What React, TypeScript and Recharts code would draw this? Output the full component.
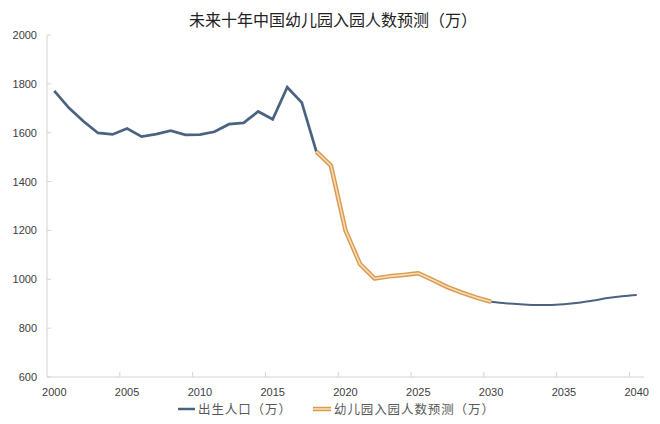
import React from "react";
import { LineChart, Line, XAxis, YAxis, Legend } from "recharts";

const years: number[] = [
  2000, 2001, 2002, 2003, 2004, 2005, 2006, 2007, 2008, 2009,
  2010, 2011, 2012, 2013, 2014, 2015, 2016, 2017, 2018, 2019,
  2020, 2021, 2022, 2023, 2024, 2025, 2026, 2027, 2028, 2029,
  2030, 2031, 2032, 2033, 2034, 2035, 2036, 2037, 2038, 2039, 2040,
];

// 出生人口（万）: 2000–2018 actual part, then tail 2030–2040
const birthHistory: number[] = [
  1771, 1702, 1647, 1599, 1593, 1617, 1584, 1594, 1608, 1591,
  1592, 1604, 1635, 1640, 1687, 1655, 1786, 1723, 1523,
];
const birthTailYears: number[] = [2030, 2031, 2032, 2033, 2034, 2035, 2036, 2037, 2038, 2039, 2040];
const birthTail: number[] = [908, 902, 898, 895, 895, 898, 904, 913, 923, 931, 936];

// 幼儿园入园人数预测（万）: 2018–2030
const forecastYears: number[] = [2018, 2019, 2020, 2021, 2022, 2023, 2024, 2025, 2026, 2027, 2028, 2029, 2030];
const forecast: number[] = [1523, 1465, 1200, 1062, 1003, 1012, 1018, 1025, 997, 968, 945, 925, 908];

const xLabelTicks: number[] = [2000, 2005, 2010, 2015, 2020, 2025, 2030, 2035, 2040];
const xMarkTicks: number[] = [2004.5, 2009.5, 2014.5, 2019.5, 2024.5, 2029.5, 2034.5, 2039.5];
const yTicks: number[] = [600, 800, 1000, 1200, 1400, 1600, 1800, 2000];

const seriesNames = ["出生人口（万）", "幼儿园入园人数预测（万）"];
const title = "未来十年中国幼儿园入园人数预测（万）";

const BLUE = "#4a6480";
const ORANGE_OUT = "#d89b50";
const ORANGE_IN = "#f7dcb8";
const AXIS = "#d4d4d4";

const data = years.map((y) => {
  const hi = y - 2000;
  const ti = birthTailYears.indexOf(y);
  const fi = forecastYears.indexOf(y);
  return {
    year: y,
    birth: hi < birthHistory.length ? birthHistory[hi] : null,
    birthTail: ti >= 0 ? birthTail[ti] : null,
    forecast: fi >= 0 ? forecast[fi] : null,
  };
});

const XTick = (props: any) => {
  const { x, y, payload } = props;
  const v = payload.value;
  if (Number.isInteger(v)) {
    return (
      <text x={x} y={y + 19} textAnchor="middle" fontSize={11} fill="#404040"
        fontFamily="'Liberation Sans', Arial, sans-serif">{v}</text>
    );
  }
  return <line x1={x} x2={x} y1={y} y2={y - 5} stroke={AXIS} strokeWidth={1} />;
};

const YTick = (props: any) => {
  const { x, y, payload } = props;
  return (
    <g>
      <line x1={x} x2={x + 4} y1={y} y2={y} stroke={AXIS} strokeWidth={1} />
      <text x={x - 10} y={y + 4} textAnchor="end" fontSize={11} fill="#404040"
        fontFamily="'Liberation Sans', Arial, sans-serif">{payload.value}</text>
    </g>
  );
};

const LegendContent = () => (
  <svg width={660} height={22}>
    <line x1={178} x2={195} y1={11} y2={11} stroke={BLUE} strokeWidth={2.5} />
    <text x={198} y={16} fontSize={12.5} fill="#595959" letterSpacing={0.9}
      fontFamily="'Noto Sans CJK SC', sans-serif">{seriesNames[0]}</text>
    <line x1={313} x2={331} y1={11} y2={11} stroke={ORANGE_OUT} strokeWidth={4.5} />
    <line x1={313} x2={331} y1={11} y2={11} stroke={ORANGE_IN} strokeWidth={1.6} />
    <text x={334} y={16} fontSize={12.5} fill="#595959" letterSpacing={0.9}
      fontFamily="'Noto Sans CJK SC', sans-serif">{seriesNames[1]}</text>
  </svg>
);

export default function App() {
  return (
    <div style={{ position: "absolute", left: 0, top: 0, width: 660, height: 424, background: "#fff" }}>
      <div
        style={{
          position: "absolute", left: 0, top: 8, width: 666, textAlign: "center",
          fontFamily: "'Noto Sans CJK SC', sans-serif", fontSize: 16, color: "#222", lineHeight: "22px",
        }}
      >
        {title}
      </div>
      <LineChart width={660} height={424} data={data} margin={{ top: 35, right: 16, left: 0, bottom: 27 }}>
        <XAxis
          dataKey="year"
          type="number"
          domain={[1999.5, 2040.5]}
          ticks={[...xLabelTicks, ...xMarkTicks].sort((a, b) => a - b)}
          interval={0}
          allowDecimals
          tickSize={0}
          tickMargin={0}
          tickLine={false}
          tick={<XTick />}
          axisLine={{ stroke: AXIS }}
          height={20}
        />
        <YAxis
          domain={[600, 2000]}
          ticks={yTicks}
          interval={0}
          width={47}
          tickSize={0}
          tickMargin={0}
          tickLine={false}
          tick={<YTick />}
          axisLine={{ stroke: AXIS }}
        />
        <Line dataKey="birth" name={seriesNames[0]} type="linear" stroke={BLUE} strokeWidth={2.75}
          dot={false} isAnimationActive={false} connectNulls={false} />
        <Line dataKey="birthTail" legendType="none" type="monotone" stroke={BLUE} strokeWidth={2}
          dot={false} isAnimationActive={false} />
        <Line dataKey="forecast" name={seriesNames[1]} type="linear" stroke={ORANGE_OUT} strokeWidth={4.5}
          dot={false} isAnimationActive={false} strokeLinejoin="round" />
        <Line dataKey={(d: any) => d.forecast} legendType="none" type="linear" stroke={ORANGE_IN} strokeWidth={1.6}
          dot={false} isAnimationActive={false} strokeLinejoin="round" />
        <Legend verticalAlign="middle" content={<LegendContent />}
          wrapperStyle={{ top: 398, left: 0, width: 660, height: 22 }} />
      </LineChart>
    </div>
  );
}
